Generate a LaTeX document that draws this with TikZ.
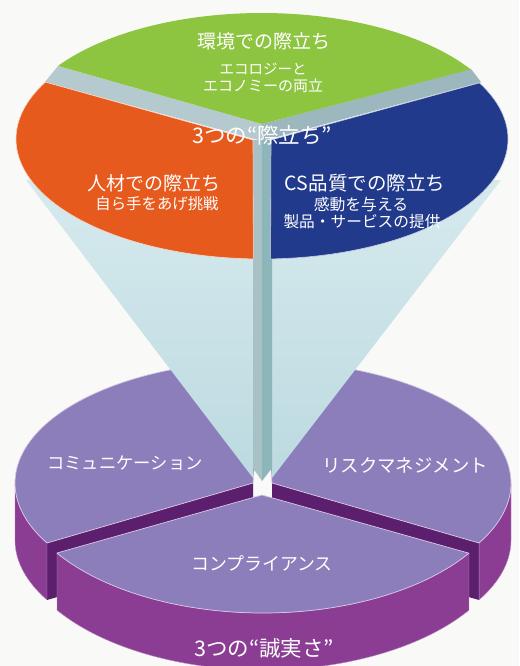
\documentclass[tikz,border=0pt]{standalone}
\usepackage{fontspec}
\newfontfamily\jp{Noto Sans CJK JP}
\definecolor{bg}{HTML}{F9F9F7}
\definecolor{grn}{HTML}{8DC540}
\definecolor{org}{HTML}{E65A1E}
\definecolor{blu}{HTML}{213A8B}
\definecolor{bevL}{HTML}{B5CACE}
\definecolor{bevR}{HTML}{9CB7BD}
\definecolor{coneT}{HTML}{D6EAEE}
\definecolor{coneB}{HTML}{BCDAE0}
\definecolor{barL}{HTML}{A8C1C5}
\definecolor{barR}{HTML}{8DB6BA}
\definecolor{ptop}{HTML}{8C7EBA}
\definecolor{pside}{HTML}{8A3D92}
\definecolor{pcut}{HTML}{5B1F6D}
\definecolor{pedge}{HTML}{DCC6E6}
\tikzset{
  lbl/.style={text=white, inner sep=0pt, align=center, font=\jp},
  topface/.style={fill=ptop, draw=pedge, line width=0.7pt, line join=round},
  sideface/.style={fill=pside, draw=pedge!60!pside, line width=0.4pt, line join=round},
  cutface/.style={fill=pcut},
}
\begin{document}
\begin{tikzpicture}[x=1pt,y=-1pt]
\fill[bg] (0,0) rectangle (519,666);
\useasboundingbox (0,0) rectangle (519,666);

% ---------- bottom pie ----------
% left slice
\fill[cutface] (253,483) -- (47,543) -- (47,600) -- (253,540) -- cycle;
\path[sideface] plot[domain=150.6:180,samples=30,variable=\t] ({263+248*cos(\t)},{483+122*sin(\t)})
  -- plot[domain=180:150.6,samples=30,variable=\t] ({263+248*cos(\t)},{540+122*sin(\t)}) -- cycle;
\path[topface] (253,483) -- (47,543) -- plot[domain=150.6:270,samples=80,variable=\t] ({263+248*cos(\t)},{483+122*sin(\t)}) -- cycle;
% right slice
\fill[cutface] (272,483) -- (479,543) -- (479,600) -- (272,540) -- cycle;
\path[sideface] plot[domain=29.4:0,samples=30,variable=\t] ({263+248*cos(\t)},{483+122*sin(\t)})
  -- plot[domain=0:29.4,samples=30,variable=\t] ({263+248*cos(\t)},{540+122*sin(\t)}) -- cycle;
\path[topface] (272,483) -- (479,543) -- plot[domain=29.4:-90,samples=80,variable=\t] ({263+248*cos(\t)},{483+122*sin(\t)}) -- cycle;
% front slice
\path[sideface] plot[domain=146.15:33.85,samples=80,variable=\t] ({263+248*cos(\t)},{478+135*sin(\t)})
  -- plot[domain=33.85:146.15,samples=80,variable=\t] ({263+248*cos(\t)},{535+135*sin(\t)}) -- cycle;
\path[topface] (262,495) -- (57,553) -- plot[domain=146.15:33.85,samples=80,variable=\t] ({263+248*cos(\t)},{478+135*sin(\t)}) -- cycle;

% ---------- cone ----------
\shade[top color=coneT, bottom color=coneB] (26,180) -- (501,180) -- (272,478) -- (272,468) -- (253,468) -- (253,478) -- cycle;
% central bar
\fill[barL] (253,140) -- (262,140) -- (262,481) -- (253,468) -- cycle;
\fill[barR] (262,140) -- (272,140) -- (272,468) -- (262,481) -- cycle;

% ---------- top pie ----------
\fill[bevL] (58,66) -- (262,124) -- (262,141) -- (45,82) -- cycle;
\fill[bevR] (262,124) -- (471,69) -- (481,82) -- (262,141) -- cycle;
\path[fill=grn] plot[domain=214:328,samples=80,variable=\t] ({262+246*cos(\t)},{133+120*sin(\t)}) -- (262,124) -- cycle;
\path[fill=org, draw=white!75!org, line width=0.6pt] (253,140) -- (45,82) -- plot[domain=208:92,samples=80,variable=\t] ({262+246*cos(\t)},{139+120*sin(\t)}) -- cycle;
\path[fill=blu, draw=white!75!blu, line width=0.6pt] (271,140) -- (479,83) -- plot[domain=-28:88,samples=80,variable=\t] ({262+246*cos(\t)},{139+120*sin(\t)}) -- cycle;

% ---------- labels ----------
\node[lbl, font=\jp\fontsize{19}{19}\selectfont] (g1) at (264,41) {環境での際立ち};
\node[lbl, font=\jp\fontsize{14.5}{14.5}\selectfont] (g2) at (263,69) {エコロジーと};
\node[lbl, font=\jp\fontsize{15}{15}\selectfont] (g3) at (263,86) {エコノミーの両立};
\node[lbl, font=\jp\fontsize{21.5}{21.5}\selectfont] (top) at (262,135) {3つの“際立ち”};
\node[lbl, font=\jp\fontsize{19}{19}\selectfont] (o1) at (154,183) {人材での際立ち};
\node[lbl, font=\jp\fontsize{15.4}{15.4}\selectfont] (o2) at (157,204) {自ら手をあげ挑戦};
\node[lbl, font=\jp\fontsize{19.5}{19.5}\selectfont] (b1) at (365,183) {CS品質での際立ち};
\node[lbl, font=\jp\fontsize{15.8}{15.8}\selectfont] (b2) at (361,204) {感動を与える};
\node[lbl, font=\jp\fontsize{15.7}{15.7}\selectfont] (b3) at (362,222) {製品・サービスの提供};
\node[lbl, font=\jp\fontsize{17.3}{17.3}\selectfont] (p1) at (125,463) {コミュニケーション};
\node[lbl, font=\jp\fontsize{18.4}{18.4}\selectfont] (p2) at (405,465) {リスクマネジメント};
\node[lbl, font=\jp\fontsize{17.9}{17.9}\selectfont] (p3) at (262,563) {コンプライアンス};
\node[lbl, font=\jp\fontsize{21.5}{21.5}\selectfont] (bot) at (264,648) {3つの“誠実さ”};
\end{tikzpicture}
\end{document}
